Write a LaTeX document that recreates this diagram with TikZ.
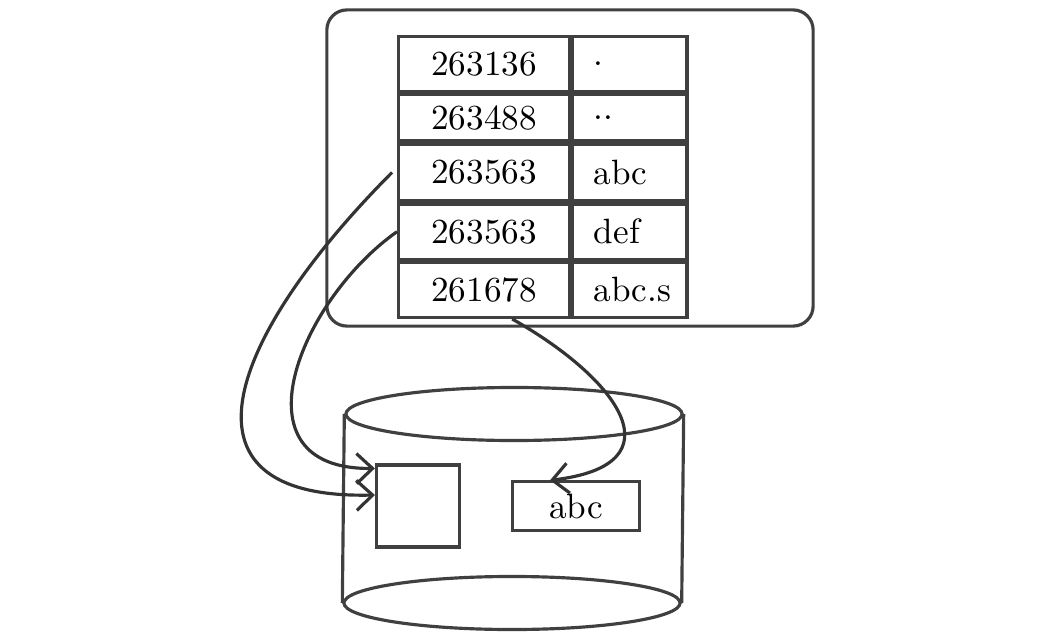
\documentclass[tikz,border=0pt]{standalone}
\usepackage{tikz}
\usetikzlibrary{shapes.geometric, arrows.meta, positioning}

\begin{document}
\begin{tikzpicture}[x=0.01cm, y=-0.01cm,
        box/.style={rectangle, draw=black!75, line width=0.9pt},
        icell/.style={box, minimum width=1.71cm, minimum height=0.55cm, inner sep=0pt},
        ncell/.style={box, minimum width=1.14cm, minimum height=0.55cm, inner xsep=0.2cm, inner ysep=0pt, text width=0.72cm, align=left},
        disk/.style={ellipse, draw=black!75, line width=0.9pt, minimum width=3.36cm, minimum height=0.53cm},
        link/.style={draw=black!80, line width=0.9pt, -{Straight Barb[length=1.6mm, width=3mm]}}
    ]
    \useasboundingbox (0,0) rectangle (1049,640);

    % Directory block
    \node[box, rounded corners=2mm, minimum width=4.86cm, minimum height=3.16cm] (dir) at (570,168) {};

    % Inode column
    \node[icell, anchor=north west] (ino1) at (397,35) {263136};
    \node[icell, minimum height=0.46cm, below=0pt of ino1] (ino2) {263488};
    \node[icell, minimum height=0.57cm, below=0pt of ino2] (ino3) {263563};
    \node[icell, below=0pt of ino3] (ino4) {263563};
    \node[icell, below=0pt of ino4] (ino5) {261678};

    % Name column
    \node[ncell, right=0pt of ino1] (nm1) {.};
    \node[ncell, minimum height=0.46cm, right=0pt of ino2] (nm2) {..};
    \node[ncell, minimum height=0.57cm, right=0pt of ino3] (nm3) {abc};
    \node[ncell, right=0pt of ino4] (nm4) {def};
    \node[ncell, right=0pt of ino5] (nm5) {abc.s};

    % Disk
    \node[disk] (top) at (514,414) {};
    \node[disk] (bot) at (512,603) {};
    \draw[draw=black!75, line width=0.9pt] (top.west) -- (bot.west);
    \draw[draw=black!75, line width=0.9pt] (top.east) -- (bot.east);

    % Blocks on disk
    \node[box, minimum width=0.83cm, minimum height=0.82cm] (blk) at (418,506) {};
    \node[box, minimum width=1.27cm, minimum height=0.48cm] (data) at (576,506) {abc};

    % Links
    \draw[link] ([xshift=-0.05cm]ino3.west) .. controls (235,330) and (160,500) .. ([yshift=0.11cm]blk.west);
    \draw[link] (ino4.west) .. controls (300,300) and (230,470) .. ([yshift=-0.05cm]blk.north west);
    \draw[link] ([xshift=0.28cm]ino5.south) .. controls (620,380) and (680,465) .. ([xshift=-0.26cm]data.north);
\end{tikzpicture}
\end{document}
